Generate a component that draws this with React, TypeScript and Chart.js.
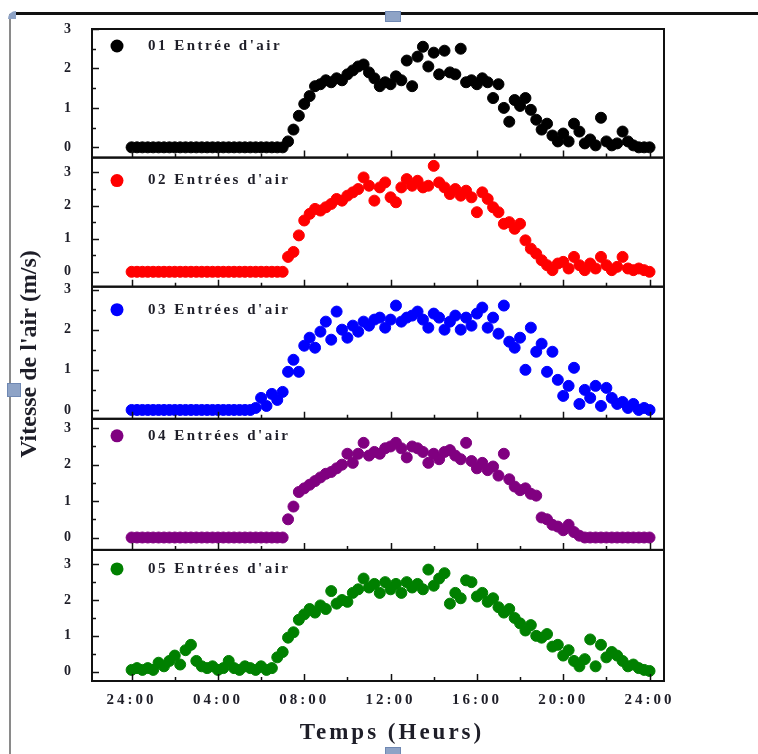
import React, { useEffect, useRef } from "react";
import { Chart, registerables } from "chart.js";

Chart.register(...registerables);

// Time of day in hours (15-minute sampling)
const HOURS = [
  0, 0.25, 0.5, 0.75, 1, 1.25, 1.5, 1.75, 2, 2.25, 2.5, 2.75,
  3, 3.25, 3.5, 3.75, 4, 4.25, 4.5, 4.75, 5, 5.25, 5.5, 5.75,
  6, 6.25, 6.5, 6.75, 7, 7.25, 7.5, 7.75, 8, 8.25, 8.5, 8.75,
  9, 9.25, 9.5, 9.75, 10, 10.25, 10.5, 10.75, 11, 11.25, 11.5, 11.75,
  12, 12.25, 12.5, 12.75, 13, 13.25, 13.5, 13.75, 14, 14.25, 14.5, 14.75,
  15, 15.25, 15.5, 15.75, 16, 16.25, 16.5, 16.75, 17, 17.25, 17.5, 17.75,
  18, 18.25, 18.5, 18.75, 19, 19.25, 19.5, 19.75, 20, 20.25, 20.5, 20.75,
  21, 21.25, 21.5, 21.75, 22, 22.25, 22.5, 22.75, 23, 23.25, 23.5, 23.75,
  24,
];

const X_TICK_HOURS = [0, 4, 8, 12, 16, 20, 24];
const X_TICK_LABELS = ["24:00", "04:00", "08:00", "12:00", "16:00", "20:00", "24:00"];
const Y_TICKS = [0, 1, 2, 3];

const SERIES_NAMES = [
  "01 Entrée d'air",
  "02 Entrées d'air",
  "03 Entrées d'air",
  "04 Entrées d'air",
  "05 Entrées d'air",
];

// Air speed (m/s)
const ENTREE_01 = [
  0, 0, 0, 0, 0, 0, 0, 0, 0, 0, 0, 0,
  0, 0, 0, 0, 0, 0, 0, 0, 0, 0, 0, 0,
  0, 0, 0, 0, 0, 0.15, 0.45, 0.8, 1.1, 1.3, 1.55, 1.6,
  1.7, 1.65, 1.75, 1.7, 1.85, 1.95, 2.05, 2.1, 1.9, 1.75, 1.55, 1.65,
  1.6, 1.8, 1.7, 2.2, 1.55, 2.3, 2.55, 2.05, 2.4, 1.85, 2.45, 1.9,
  1.85, 2.5, 1.65, 1.7, 1.6, 1.75, 1.65, 1.25, 1.6, 1.0, 0.65, 1.2,
  1.05, 1.25, 0.95, 0.7, 0.45, 0.6, 0.3, 0.15, 0.35, 0.15, 0.6, 0.4,
  0.1, 0.2, 0.05, 0.75, 0.15, 0.05, 0.1, 0.4, 0.15, 0.05, 0, 0,
  0,
];

const ENTREE_02 = [
  0, 0, 0, 0, 0, 0, 0, 0, 0, 0, 0, 0,
  0, 0, 0, 0, 0, 0, 0, 0, 0, 0, 0, 0,
  0, 0, 0, 0, 0, 0.45, 0.6, 1.1, 1.55, 1.75, 1.9, 1.85,
  1.95, 2.05, 2.2, 2.15, 2.3, 2.4, 2.5, 2.85, 2.6, 2.15, 2.55, 2.7,
  2.25, 2.1, 2.55, 2.8, 2.6, 2.75, 2.55, 2.6, 3.2, 2.7, 2.55, 2.35,
  2.5, 2.3, 2.45, 2.25, 1.8, 2.4, 2.2, 1.95, 1.8, 1.45, 1.5, 1.3,
  1.45, 0.95, 0.7, 0.55, 0.35, 0.2, 0.05, 0.25, 0.3, 0.1, 0.45, 0.2,
  0.05, 0.25, 0.1, 0.45, 0.2, 0.05, 0.15, 0.45, 0.1, 0.05, 0.1, 0.05,
  0,
];

const ENTREE_03 = [
  0, 0, 0, 0, 0, 0, 0, 0, 0, 0, 0, 0,
  0, 0, 0, 0, 0, 0, 0, 0, 0, 0, 0, 0.05,
  0.3, 0.1, 0.4, 0.25, 0.45, 0.95, 1.25, 0.95, 1.6, 1.8, 1.55, 1.95,
  2.2, 1.75, 2.45, 2.0, 1.8, 2.1, 1.95, 2.2, 2.1, 2.25, 2.3, 2.05,
  2.25, 2.6, 2.2, 2.3, 2.35, 2.45, 2.25, 2.05, 2.4, 2.3, 2.0, 2.2,
  2.35, 2.0, 2.3, 2.1, 2.4, 2.55, 2.05, 2.3, 1.9, 2.6, 1.7, 1.55,
  1.8, 1.0, 2.05, 1.45, 1.65, 0.95, 1.45, 0.75, 0.35, 0.6, 1.05, 0.15,
  0.5, 0.3, 0.6, 0.1, 0.55, 0.3, 0.15, 0.2, 0.05, 0.15, 0, 0.05,
  0,
];

const ENTREE_04 = [
  0, 0, 0, 0, 0, 0, 0, 0, 0, 0, 0, 0,
  0, 0, 0, 0, 0, 0, 0, 0, 0, 0, 0, 0,
  0, 0, 0, 0, 0, 0.5, 0.85, 1.25, 1.35, 1.45, 1.55, 1.65,
  1.75, 1.8, 1.9, 2.0, 2.3, 2.05, 2.3, 2.6, 2.25, 2.35, 2.3, 2.45,
  2.5, 2.6, 2.45, 2.2, 2.5, 2.45, 2.35, 2.05, 2.3, 2.15, 2.35, 2.4,
  2.25, 2.15, 2.6, 2.1, 1.9, 2.05, 1.85, 1.95, 1.7, 2.3, 1.6, 1.4,
  1.3, 1.35, 1.2, 1.15, 0.55, 0.5, 0.35, 0.3, 0.2, 0.35, 0.15, 0.05,
  0, 0, 0, 0, 0, 0, 0, 0, 0, 0, 0, 0,
  0,
];

const ENTREE_05 = [
  0.05, 0.1, 0.05, 0.1, 0.05, 0.25, 0.15, 0.3, 0.45, 0.2, 0.6, 0.75,
  0.3, 0.15, 0.1, 0.15, 0.05, 0.1, 0.3, 0.1, 0.05, 0.15, 0.1, 0.05,
  0.15, 0.05, 0.1, 0.4, 0.55, 0.95, 1.1, 1.45, 1.6, 1.75, 1.65, 1.85,
  1.75, 2.25, 1.9, 2.0, 1.95, 2.2, 2.3, 2.6, 2.35, 2.45, 2.2, 2.5,
  2.3, 2.45, 2.2, 2.5, 2.35, 2.45, 2.3, 2.85, 2.4, 2.6, 2.75, 1.9,
  2.2, 2.05, 2.55, 2.5, 2.1, 2.2, 1.95, 2.05, 1.8, 1.65, 1.75, 1.5,
  1.35, 1.15, 1.3, 1.0, 0.95, 1.05, 0.7, 0.75, 0.45, 0.6, 0.3, 0.15,
  0.35, 0.9, 0.15, 0.75, 0.4, 0.55, 0.45, 0.3, 0.15, 0.2, 0.1, 0.05,
  0.02,
];

const SERIES = [ENTREE_01, ENTREE_02, ENTREE_03, ENTREE_04, ENTREE_05];
const COLORS = ["#000000", "#ff0000", "#0000ff", "#800080", "#008000"];

// panel axis settings (top panel first)
const Y_IDS = ["y1", "y2", "y3", "y4", "y5"];
const Y_MIN = [-0.26, -0.45, -0.22, -0.34, -0.26];
const Y_MAX = [3.0, 3.45, 3.07, 3.26, 3.4];
const PANEL_WEIGHTS = [128.5, 129, 132, 131, 131];
const LEGEND_OFFSETS = [17, 23, 23, 17, 19];
const X_MIN = -1.835;
const X_MAX = 24.67;

const SERIF = "'Liberation Serif', 'Times New Roman', serif";
const TEXT_COLOR = "#1e1e28";

const panelPlugin = {
  id: "panelDecor",
  beforeDraw(chart: any) {
    chart.ctx.letterSpacing = "3px";
  },
  afterDraw(chart: any) {
    const { ctx, chartArea, scales } = chart;
    const xs = scales.x;
    const left = chartArea.left;
    const right = chartArea.right;
    ctx.save();
    ctx.letterSpacing = "0px";
    Y_IDS.forEach((id, p) => {
      const ys = scales[id];
      const top = ys.top;
      const bottom = ys.bottom;
      ctx.strokeStyle = "#111";
      ctx.lineWidth = 1.5;
      ctx.beginPath();
      for (let k = 0; k <= 6; k++) {
        const v = k / 2;
        const py = Math.round(ys.getPixelForValue(v)) + 0.5;
        const len = k % 2 === 0 ? 7 : 4;
        ctx.moveTo(left, py);
        ctx.lineTo(left + len, py);
      }
      for (let k = 0; k <= 12; k++) {
        const h = k * 2;
        const px = Math.round(xs.getPixelForValue(h)) + 0.5;
        const len = k % 2 === 0 ? 7 : 4;
        ctx.moveTo(px, bottom);
        ctx.lineTo(px, bottom - len);
      }
      ctx.stroke();
      ctx.lineWidth = 2;
      ctx.strokeRect(left, top, right - left, bottom - top);

      // legend entry
      const ly = top + LEGEND_OFFSETS[p];
      ctx.fillStyle = COLORS[p];
      ctx.beginPath();
      ctx.arc(117, ly, 6.5, 0, Math.PI * 2);
      ctx.fill();
      ctx.letterSpacing = "2.5px";
      ctx.fillStyle = TEXT_COLOR;
      ctx.font = `bold 15px ${SERIF}`;
      ctx.textAlign = "left";
      ctx.textBaseline = "middle";
      ctx.fillText(SERIES_NAMES[p], 148, ly);
      ctx.letterSpacing = "0px";
    });

    // axis titles
    ctx.fillStyle = TEXT_COLOR;
    ctx.textAlign = "center";
    ctx.textBaseline = "middle";
    ctx.letterSpacing = "3px";
    ctx.font = `bold 23px ${SERIF}`;
    ctx.fillText("Temps (Heurs)", 392, 733);
    ctx.letterSpacing = "0px";
    ctx.save();
    ctx.translate(30, 354);
    ctx.rotate(-Math.PI / 2);
    ctx.font = `bold 24px ${SERIF}`;
    ctx.fillText("Vitesse de l'air (m/s)", 0, 0);
    ctx.restore();
    ctx.restore();
  },
};

function yScale(p: number) {
  return {
    type: "linear",
    position: "left",
    stack: "panels",
    stackWeight: PANEL_WEIGHTS[p],
    min: Y_MIN[p],
    max: Y_MAX[p],
    grid: { display: false, drawTicks: false },
    border: { display: false },
    title: { display: false },
    afterFit: (s: any) => {
      s.width = 92;
    },
    afterBuildTicks: (s: any) => {
      s.ticks = Y_TICKS.map((v) => ({ value: v }));
    },
    ticks: {
      padding: 18,
      color: TEXT_COLOR,
      font: { family: SERIF, size: 14, weight: "bold" },
    },
  };
}

export default function App() {
  const ref = useRef<HTMLCanvasElement | null>(null);

  useEffect(() => {
    if (!ref.current) return;
    const scales: any = {
      x: {
        type: "linear",
        position: "bottom",
        min: X_MIN,
        max: X_MAX,
        grid: { display: false, drawTicks: false },
        border: { display: false },
        afterFit: (s: any) => {
          s.height = 73;
        },
        afterBuildTicks: (s: any) => {
          s.ticks = X_TICK_HOURS.map((v) => ({ value: v }));
        },
        ticks: {
          padding: 10,
          autoSkip: false,
          maxRotation: 0,
          color: TEXT_COLOR,
          font: { family: SERIF, size: 15, weight: "bold" },
          callback: (value: any) => {
            const i = X_TICK_HOURS.indexOf(Number(value));
            return i >= 0 ? X_TICK_LABELS[i] : "";
          },
        },
      },
    };
    // bottom panel defined first: the last left-stacked scale is placed on top
    for (let p = Y_IDS.length - 1; p >= 0; p--) {
      scales[Y_IDS[p]] = yScale(p);
    }

    const chart = new Chart(ref.current, {
      type: "scatter",
      data: {
        datasets: SERIES.map((vals, p) => ({
          label: SERIES_NAMES[p],
          data: HOURS.map((h, i) => ({ x: h, y: vals[i] })),
          xAxisID: "x",
          yAxisID: Y_IDS[p],
          backgroundColor: COLORS[p],
          borderColor: COLORS[p],
          pointRadius: 5.5,
          pointBorderWidth: 1,
          pointHoverRadius: 5.5,
        })),
      },
      options: {
        responsive: false,
        maintainAspectRatio: false,
        animation: false,
        events: [],
        layout: { padding: { left: 0, right: 94, top: 29, bottom: 0 } },
        plugins: {
          legend: { display: false },
          tooltip: { enabled: false },
        },
        scales,
      } as any,
      plugins: [panelPlugin],
    });
    return () => chart.destroy();
  }, []);

  return (
    <div
      style={{
        position: "fixed",
        left: 0,
        top: 0,
        width: 758,
        height: 754,
        background: "#ffffff",
        overflow: "hidden",
      }}
    >
      <div style={{ position: "absolute", left: 12, top: 12, width: 746, height: 3, background: "#111" }} />
      <div style={{ position: "absolute", left: 9, top: 14, width: 2, height: 740, background: "#8a8a8a" }} />
      <div style={{ position: "absolute", left: 8, top: 11, width: 8, height: 8, borderTopLeftRadius: 8, background: "#8ea3c6" }} />
      <div style={{ position: "absolute", left: 385, top: 11, width: 14, height: 9, background: "#8ea3c6", border: "1px solid #6f88b3" }} />
      <div style={{ position: "absolute", left: 7, top: 383, width: 12, height: 12, background: "#8ea3c6", border: "1px solid #6f88b3" }} />
      <div style={{ position: "absolute", left: 385, top: 747, width: 14, height: 9, background: "#8ea3c6", border: "1px solid #6f88b3" }} />
      <canvas
        ref={ref}
        width={758}
        height={754}
        style={{ position: "absolute", left: 0, top: 0, width: 758, height: 754 }}
      />
    </div>
  );
}
